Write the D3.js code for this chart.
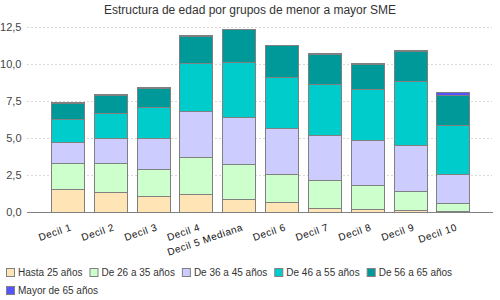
<!DOCTYPE html>
<html>
<head>
<meta charset="utf-8">
<script src="https://cdn.jsdelivr.net/npm/d3@7"></script>
<style>
  body { margin: 0; background: #fff; }
  svg { display: block; font-family: "Liberation Sans", Arial, sans-serif; }
</style>
</head>
<body>
<div id="chart"></div>
<script>
// categories and series
var deciles = ["Decil 1", "Decil 2", "Decil 3", "Decil 4", "Decil 5 Mediana",
               "Decil 6", "Decil 7", "Decil 8", "Decil 9", "Decil 10"];
var seriesNames = ["Hasta 25 años", "De 26 a 35 años", "De 36 a 45 años",
                   "De 46 a 55 años", "De 56 a 65 años", "Mayor de 65 años"];
var hasta25  = [1.55, 1.35, 1.08, 1.22, 0.88, 0.68, 0.31, 0.20, 0.13, 0.07];
var de26a35  = [1.76, 1.96, 1.83, 2.50, 2.36, 1.89, 1.85, 1.62, 1.29, 0.54];
var de36a45  = [1.46, 1.69, 2.09, 3.10, 3.22, 3.11, 3.04, 3.04, 3.11, 1.96];
var de46a55  = [1.51, 1.69, 2.09, 3.25, 3.68, 3.44, 3.45, 3.45, 4.32, 3.31];
var de56a65  = [1.11, 1.26, 1.33, 1.86, 2.22, 2.16, 2.05, 1.73, 2.07, 2.07];
var mayor65  = [0.06, 0.06, 0.06, 0.06, 0.05, 0.05, 0.04, 0.03, 0.06, 0.16];
var yTicks = [0, 2.5, 5, 7.5, 10, 12.5];
var colors = ["#ffe4b5", "#ccffcc", "#ccccff", "#00cccc", "#009999", "#5555ff"];

var width = 500, height = 300;
var svg = d3.select("#chart").append("svg")
  .attr("width", width)
  .attr("height", height);

// build rows for the stack
var allSeries = [hasta25, de26a35, de36a45, de46a55, de56a65, mayor65];
var rows = deciles.map(function(d, i) {
  var r = { decil: d };
  seriesNames.forEach(function(s, j) { r[s] = allSeries[j][i]; });
  return r;
});
var stacked = d3.stack().keys(seriesNames)(rows);

var x = d3.scaleBand()
  .domain(deciles)
  .range([27, 493])
  .paddingInner(0.24)
  .paddingOuter(0.56);

var y = d3.scaleLinear()
  .domain([0, 12.5])
  .range([212.3, 27.3]);

// title
svg.append("text")
  .attr("x", 250)
  .attr("y", 14)
  .attr("text-anchor", "middle")
  .style("font-size", "12px")
  .style("fill", "#333")
  .text("Estructura de edad por grupos de menor a mayor SME");

// gridlines
svg.append("g")
  .selectAll("line")
  .data(yTicks.filter(function(t) { return t > 0; }))
  .enter().append("line")
  .attr("x1", 27)
  .attr("x2", 492)
  .attr("y1", function(d) { return Math.round(y(d)) + 0.5; })
  .attr("y2", function(d) { return Math.round(y(d)) + 0.5; })
  .style("stroke", "#d8d8d8")
  .style("stroke-dasharray", "2,2");

// y tick labels
var fmt = function(d) { return d3.format(".1f")(d).replace(".", ","); };
svg.append("g")
  .selectAll("text")
  .data(yTicks)
  .enter().append("text")
  .attr("x", 21.5)
  .attr("y", function(d) { return y(d) + 4; })
  .attr("text-anchor", "end")
  .style("font-size", "11px")
  .style("fill", "#444")
  .text(fmt);

// bars
var layer = svg.append("g").selectAll(".layer")
  .data(stacked)
  .enter().append("g")
  .attr("class", "layer")
  .style("fill", function(d, i) { return colors[i]; });

layer.selectAll("rect")
  .data(function(d) { return d; })
  .enter().append("rect")
  .attr("x", function(d) { return Math.round(x(d.data.decil)) + 0.5; })
  .attr("width", Math.round(x.bandwidth()))
  .attr("y", function(d) { return Math.round(y(d[1])) + 0.5; })
  .attr("height", function(d) { return Math.max(0, Math.round(y(d[0])) - Math.round(y(d[1]))); })
  .style("stroke", "#808080")
  .style("stroke-width", 1);

// x axis line
svg.append("line")
  .attr("x1", 27).attr("x2", 493)
  .attr("y1", 212.5).attr("y2", 212.5)
  .style("stroke", "#808080");

// x labels, rotated
svg.append("g")
  .selectAll("text")
  .data(deciles)
  .enter().append("text")
  .attr("text-anchor", "end")
  .attr("transform", function(d) {
    return "translate(" + (x(d) + x.bandwidth() / 2 + 5) + ",230) rotate(-19)";
  })
  .style("font-size", "10px")
  .style("letter-spacing", "0.5px")
  .style("fill", "#111")
  .text(function(d) { return d; });

// legend, flowing into rows
var lx = 6, ly = 268;
seriesNames.forEach(function(s, i) {
  var g = svg.append("g");
  g.append("rect")
    .attr("x", 0.5).attr("y", 0.5)
    .attr("width", 8).attr("height", 8)
    .style("fill", colors[i])
    .style("stroke", "#808080");
  var t = g.append("text")
    .attr("x", 12)
    .attr("y", 8)
    .style("font-size", "10px")
    .style("fill", "#333")
    .text(s);
  var w = 12 + t.node().getComputedTextLength();
  if (lx + w > 494) { lx = 6; ly += 18; }
  g.attr("transform", "translate(" + lx + "," + ly + ")");
  lx += w + 7;
});
</script>
</body>
</html>
